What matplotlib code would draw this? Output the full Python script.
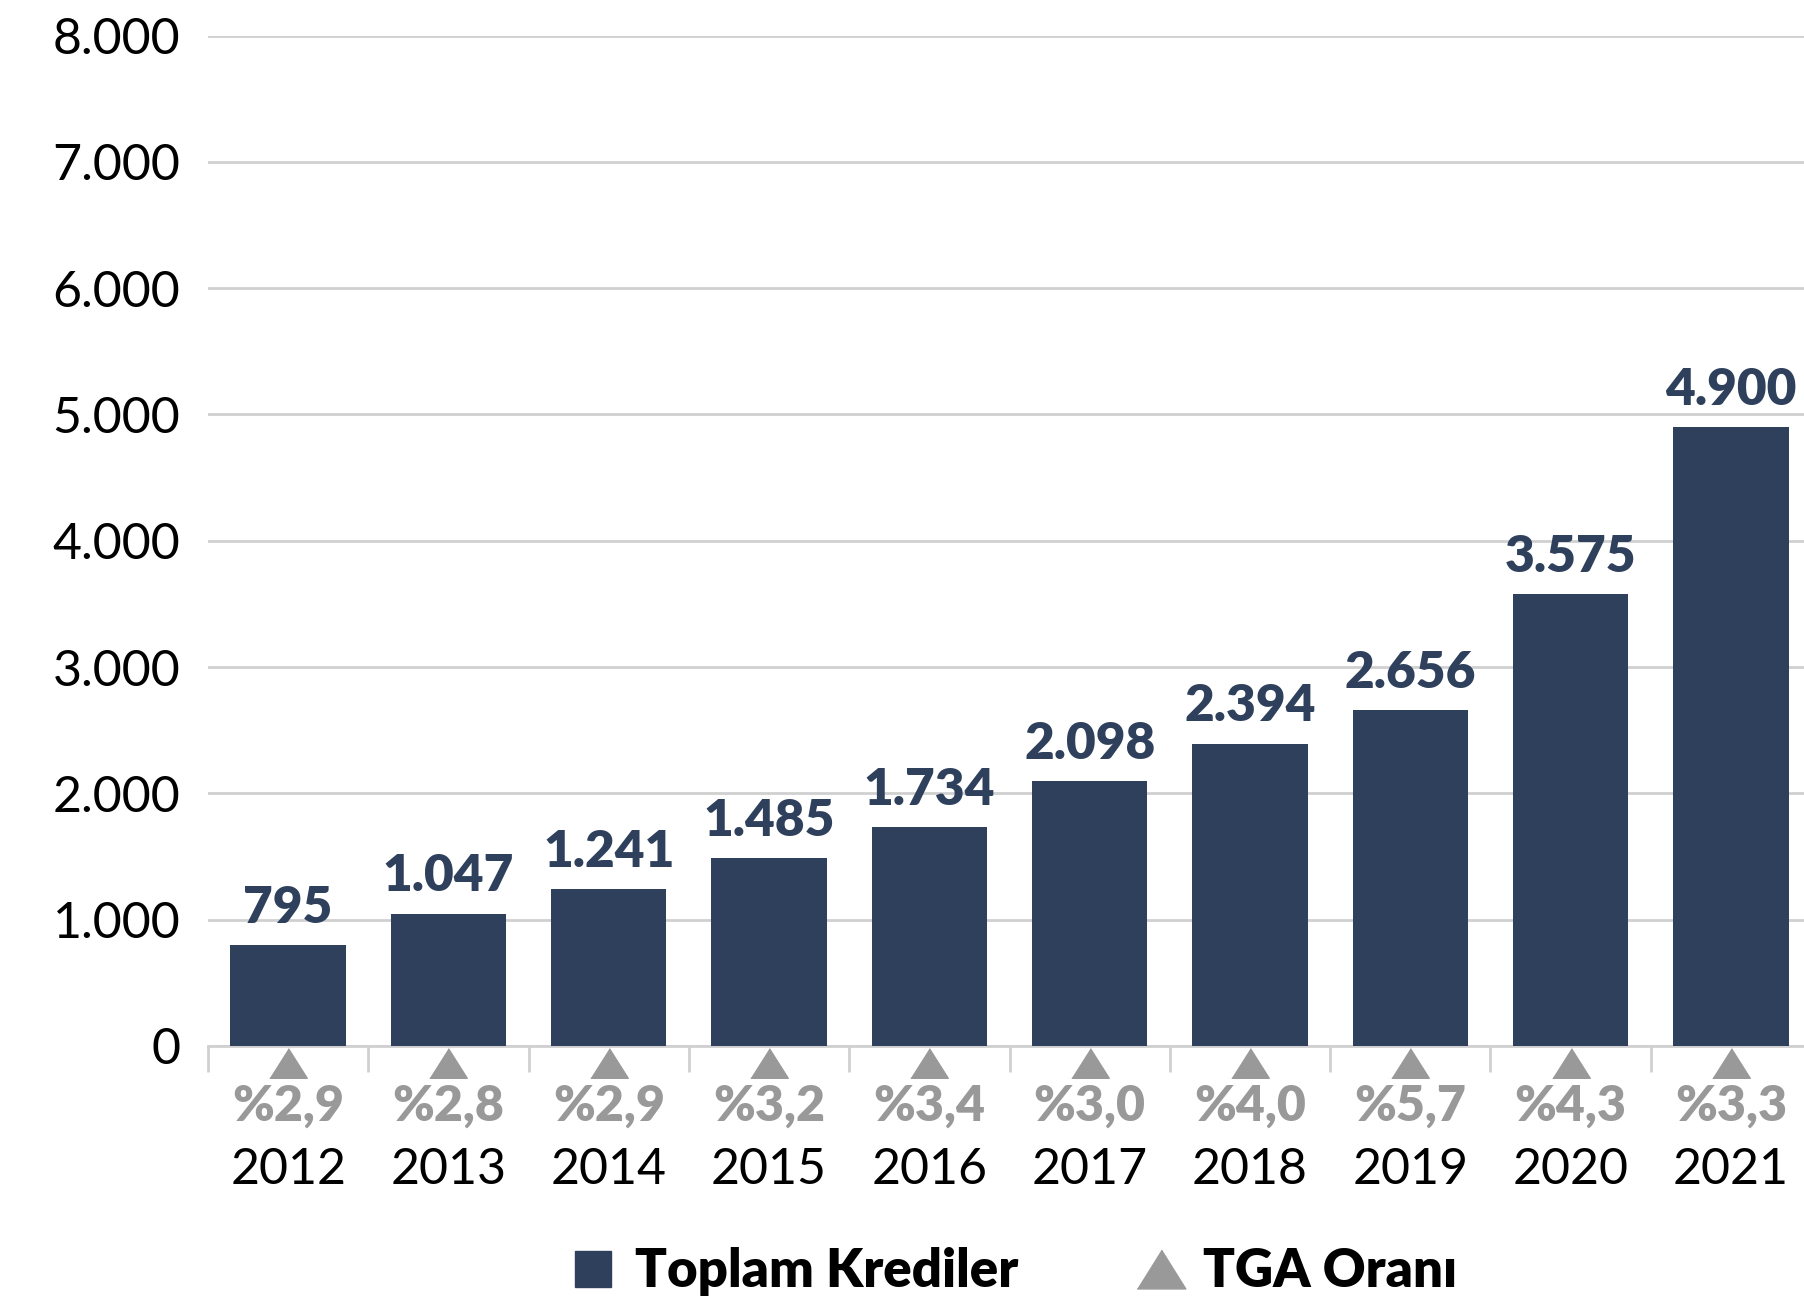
import numpy as np
import matplotlib.pyplot as plt
from matplotlib.lines import Line2D

years = ["2012", "2013", "2014", "2015", "2016", "2017", "2018", "2019", "2020", "2021"]
krediler = [795, 1047, 1241, 1485, 1734, 2098, 2394, 2656, 3575, 4900]
tga = [2.9, 2.8, 2.9, 3.2, 3.4, 3.0, 4.0, 5.7, 4.3, 3.3]
yticks = [0, 1000, 2000, 3000, 4000, 5000, 6000, 7000, 8000]

bar_color = "#2e405c"
gray = "#999999"
grid_color = "#d0d0d0"

plt.rcParams["font.family"] = ["Lato", "DejaVu Sans"]

fig = plt.figure(figsize=(18.04, 13.03), dpi=100)
ax = fig.add_axes([0.1153, 0.1974, 0.8886, 0.7752])

x = np.arange(len(years))
ax.bar(x, krediler, width=0.72, color=bar_color, zorder=3)

# bar value labels
for xi, v in zip(x, krediler):
    lab = f"{v:,}".replace(",", ".")
    ax.annotate(lab, (xi, v), xytext=(0, 16), textcoords="offset points",
                ha="center", va="baseline", fontsize=37, fontweight="heavy",
                color=bar_color)

ax.set_xlim(-0.5, len(years) - 0.5)
ax.set_ylim(0, 8000)
ax.set_yticks(yticks)
ax.set_yticklabels([f"{t:,}".replace(",", ".") for t in yticks])
ax.tick_params(axis="y", length=0, pad=20, labelsize=36)
ax.grid(axis="y", color=grid_color, linewidth=2, zorder=0)

# category boundaries as ticks, labels drawn separately
ax.set_xticks(np.arange(len(years) + 1) - 0.5)
ax.set_xticklabels([])
ax.tick_params(axis="x", length=19, width=2, color=grid_color)

for s in ["top", "right", "left"]:
    ax.spines[s].set_visible(False)
ax.spines["bottom"].set_color(grid_color)
ax.spines["bottom"].set_linewidth(2)

tr = ax.get_xaxis_transform()
ax.plot(x, [-0.0168] * len(x), transform=tr, linestyle="none",
        marker=[(-1, -0.79), (1, -0.79), (0, 0.79)], ms=27, color=gray,
        clip_on=False)
for xi, t in zip(x, tga):
    ax.text(xi, -0.0594, "%" + f"{t:.1f}".replace(".", ","), transform=tr,
            ha="center", va="center", fontsize=36, fontweight="heavy",
            color=gray)
    ax.text(xi, -0.1228, years[xi], transform=tr, ha="center", va="center",
            fontsize=36, color="black")

handles = [
    Line2D([], [], linestyle="none", marker="s", ms=26, color=bar_color),
    Line2D([], [], linestyle="none", marker=[(-1, -0.8), (1, -0.8), (0, 0.8)],
           ms=35, color=gray),
]
fig.legend(handles, ["Toplam Krediler", "TGA Oranı"], loc="center",
           bbox_to_anchor=(0.561, 0.024), ncol=2, frameon=False,
           prop={"size": 38, "weight": "heavy"}, handletextpad=0.3,
           columnspacing=2.2, handlelength=1.0)

fig.savefig("out.png", dpi=100)
